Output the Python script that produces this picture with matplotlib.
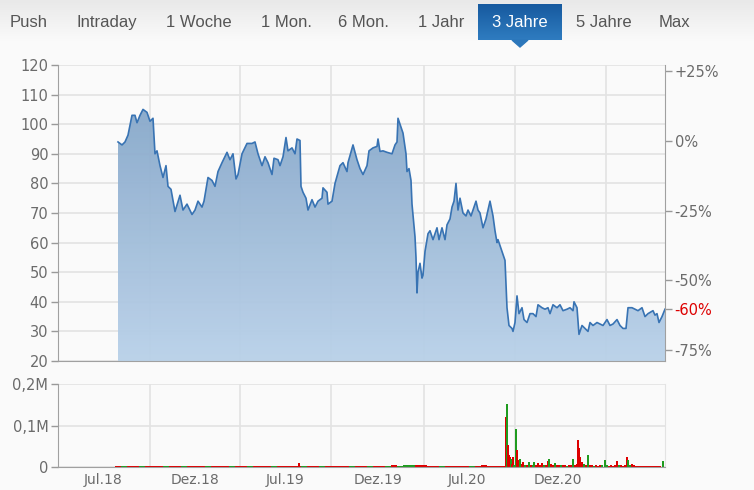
"""Kursverlauf 3 Jahre: Preis-Fläche mit Umsatz-Balken darunter."""

import numpy as np
import matplotlib.pyplot as plt
from matplotlib.colors import LinearSegmentedColormap
from matplotlib.patches import Rectangle, Polygon

# --- data (x = time index along the chart) ---------------------------------
price_t = [118, 122, 125, 128, 132, 135, 137, 140, 143, 147, 150, 153, 155, 157,
           160, 163, 166, 168, 171, 175, 180, 183, 187, 192, 195, 198, 202, 204,
           208, 212, 215, 218, 222, 227, 230, 233, 236, 238, 242, 247, 252, 255,
           258, 262, 265, 268, 272, 274, 278, 280, 283, 286, 288, 292, 295, 297,
           300, 301, 303, 306, 308, 312, 315, 318, 322, 323, 327, 328, 332, 335,
           340, 343, 347, 348, 353, 357, 360, 363, 367, 369, 373, 377, 378, 380,
           383, 387, 392, 395, 397, 398, 401, 403, 406, 407, 409, 411, 412, 415,
           416, 417, 418, 420, 422, 423, 425, 428, 430, 433, 435, 437, 439, 442,
           445, 447, 450, 452, 454, 456, 458, 460, 463, 466, 468, 471, 473, 476,
           478, 480, 483, 486, 488, 490, 493, 495, 497, 498, 501, 503, 505, 506,
           507, 509, 512, 513, 515, 517, 519, 522, 524, 527, 530, 533, 536, 538,
           542, 545, 548, 550, 553, 557, 560, 563, 567, 570, 573, 574, 577, 579,
           582, 585, 588, 590, 593, 597, 600, 603, 607, 610, 613, 617, 620, 623,
           626, 628, 632, 635, 638, 642, 645, 648, 653, 655, 657, 659, 662, 665]
price = [94, 93, 94, 96.3, 103, 103, 100.5, 103, 105, 104, 101, 102, 90, 91,
         86, 82, 86, 79, 78, 70.5, 76, 71, 73, 69.5, 71, 74, 72, 74,
         82, 81, 79, 84, 87, 90.5, 88, 90, 81.5, 83, 90, 93.5, 93.5, 94,
         90, 86, 89, 87, 83, 88.5, 88, 86, 89, 95.5, 91, 92, 90, 95,
         94.5, 79, 77, 75, 71, 74.5, 72, 74, 75, 78.5, 77, 73, 74, 80,
         86, 87, 84, 87, 93, 88, 85, 83, 86, 91, 92, 92.5, 95, 90.8,
         91, 90.5, 90, 93, 94, 102, 99, 97, 90, 84, 85, 81, 73, 62,
         55, 43, 50, 53, 48, 49, 57, 63, 64, 61, 63, 65, 61, 65,
         61, 66, 68, 72, 74, 80, 71, 75, 70, 69, 71, 69, 71, 74,
         71, 70, 65, 68, 71, 74, 69, 64, 60, 61, 58, 56, 54, 46,
         38, 32, 31, 30, 33, 42, 36, 38, 34, 33, 36, 36, 35, 39,
         38, 37.5, 38, 36, 39, 38, 39, 37, 37.5, 38, 37, 40, 38, 29,
         32, 31, 30, 33, 32, 33, 32.5, 32, 34, 32, 32.5, 34, 32, 31,
         31, 38, 38, 37.5, 37, 38, 35, 36, 37, 35.5, 36, 33, 35, 37.5]

# daily volume (thousand shares) before the autumn-2020 crash, one bar per step
vol_base_start, vol_base_step = 118, 6
vol_base = [3, 3, 2, 3, 3, 3, 3, 3, 2, 3, 3, 3, 3, 3, 3, 2, 3, 3, 3, 3,
            3, 3, 3, 3, 3, 3, 3, 3, 3, 3, 3, 3, 3, 3, 3, 3, 3, 3, 3, 3,
            3, 3, 3, 3, 3, 3, 4, 3, 4, 6, 6, 5, 3, 3, 3, 3, 3, 3, 3, 3,
            3, 4, 3, 3, 3]
vol_base_dir = "rgrrgrrrgrrgrrrgrrrgrrgrrrgrrrrgrrgrrrrgrrgrrgrgggrrrrgrrrrgrrrr"

# single-day volume spikes
vol_t = [299, 506, 507, 508, 509, 510, 511, 512, 513, 514, 516, 517, 518, 519,
         520, 522, 523, 525, 527, 529, 531, 533, 534, 536, 538, 540, 542, 544,
         546, 548, 549, 551, 553, 555, 557, 559, 561, 563, 565, 567, 569, 571,
         573, 575, 577, 578, 579, 580, 582, 584, 586, 588, 590, 592, 594, 596,
         598, 600, 602, 605, 607, 609, 611, 613, 615, 617, 619, 621, 623, 625,
         627, 628, 630, 632, 634, 636, 638, 640, 642, 644, 646, 648, 650, 652,
         654, 656, 658, 660, 663]
vol_k = [10, 120, 153, 54, 30, 25, 20, 8, 25, 6, 92, 41, 12, 17,
         19, 8, 13, 6, 5, 12, 5, 5, 12, 6, 9, 5, 10, 6,
         4, 15, 19, 8, 6, 10, 5, 4, 6, 4, 5, 3, 5, 4,
         20, 5, 8, 66, 45, 25, 12, 8, 5, 30, 6, 4, 3, 4,
         3, 4, 4, 17, 5, 3, 4, 3, 4, 14, 5, 4, 3, 5,
         24, 18, 5, 8, 4, 3, 3, 3, 3, 3, 3, 3, 3, 3,
         3, 3, 3, 3, 15]
vol_dir = "rrgrrrgrrggrrrgrrgrgrggrrrrgrrgrrgrrgrrgrrgrrrrrrgrgrrgrrrgggrrrrrgrrrrggrrrrrrrrrrrrrrrg"

tabs = ["Push", "Intraday", "1 Woche", "1 Mon.", "6 Mon.", "1 Jahr",
        "3 Jahre", "5 Jahre", "Max"]
tab_x = [29, 107, 199, 286, 363, 441, 520, 604, 674]
active_tab = "3 Jahre"

date_labels = ["Jul.18", "Dez.18", "Jul.19", "Dez.19", "Jul.20", "Dez.20"]
date_label_t = [103, 195, 285, 378, 467, 558]
grid_t = [150, 240, 331, 424, 515, 606]
pct_ticks = [25, 0, -25, -50, -75]
base_price = 94.4

# --- style ------------------------------------------------------------------
W, H = 754, 490
BG = "#fafafa"
GRID = "#e3e3e3"
TXT = "#6b6b6b"
LINE = "#3873b3"
RED = "#dd0000"
GREEN = "#1f9b1f"
T0, T1 = 58, 665

plt.rcParams.update({"font.family": ["DejaVu Sans"], "font.size": 10})

fig = plt.figure(figsize=(W / 100, H / 100), dpi=100, facecolor=BG)


def px_axes(left, top, right, bottom):
    return fig.add_axes([left / W, 1 - bottom / H, (right - left) / W,
                         (bottom - top) / H])


# navigation bar
nav = px_axes(0, 0, W, 50)
nav.set_xlim(0, W)
nav.set_ylim(50, 0)
nav.axis("off")
bar_cmap = LinearSegmentedColormap.from_list("bar", ["#e9e9e9", "#fbfbfb"])
nav.imshow(np.linspace(0, 1, 64).reshape(-1, 1), cmap=bar_cmap,
           extent=[0, W, 44, 0], aspect="auto", zorder=0)
nav.add_patch(Rectangle((0, 44), W, 6, color=BG, zorder=0))
ai = tabs.index(active_tab)
tab_cmap = LinearSegmentedColormap.from_list("tab", ["#175a9f", "#2f7cc0"])
nav.imshow(np.linspace(0, 1, 64).reshape(-1, 1), cmap=tab_cmap,
           extent=[478, 562, 40, 4], aspect="auto", zorder=1)
nav.add_patch(Polygon([(tab_x[ai] - 8, 40), (tab_x[ai] + 8, 40),
                       (tab_x[ai], 47)], closed=True, color="#2c77bb", zorder=1))
for name, x in zip(tabs, tab_x):
    nav.text(x, 27, name, ha="center", va="baseline", fontsize=12,
             family="Liberation Sans",
             color="white" if name == active_tab else "#555555", zorder=2)

# price panel
ax = px_axes(T0, 65, T1, 361)
ax.set_facecolor(BG)
ax.set_yticks(range(20, 121, 10))
ax.set_xticks(grid_t)
ax.tick_params(axis="x", length=0, labelbottom=False)
ax.tick_params(axis="y", length=5, width=1, color="#999999", labelcolor=TXT,
               labelsize=10.5, pad=2)
ax.grid(True, color=GRID, lw=1.2, zorder=0)
ax.set_axisbelow(True)
for s in ("top", "right"):
    ax.spines[s].set_visible(False)
for s in ("left", "bottom"):
    ax.spines[s].set_color("#a0a0a0")

fill = ax.fill_between(price_t, price, 20, color="none", lw=0)
fill_cmap = LinearSegmentedColormap.from_list("fill", ["#87a8ca", "#b9d1e9"])
img = ax.imshow(np.linspace(0, 1, 128).reshape(-1, 1), cmap=fill_cmap,
                extent=[T0, T1, 20, 106], aspect="auto", zorder=1, alpha=0.95)
img.set_clip_path(fill.get_paths()[0], transform=ax.transData)
ax.set_xlim(T0, T1)
ax.set_ylim(20, 120)
ax.plot(price_t, price, color=LINE, lw=1.2, zorder=3)

# percentage axis on the right, plus the current-price marker in red
last_pct = round((price[-1] / base_price - 1) * 100)
ax2 = ax.twinx()
ax2.set_ylim(20, 120)
ax2.set_yticks([base_price * (1 + p / 100) for p in pct_ticks] + [price[-1]])
ax2.set_yticklabels([f"{p:+d}%" if p > 0 else f"{p}%" for p in pct_ticks]
                    + [f"{last_pct}%"])
ax2.tick_params(axis="y", length=5, width=1, color="#999999", labelcolor=TXT,
                labelsize=10.5, pad=2)
ax2.get_yticklabels()[-1].set_color(RED)
for s in ("top", "left", "bottom"):
    ax2.spines[s].set_visible(False)
ax2.spines["right"].set_color("#a0a0a0")

# volume panel
vx = px_axes(T0, 384, T1, 467)
vx.set_facecolor(BG)
vx.set_xlim(T0, T1)
vx.set_ylim(0, 200)
base_t = [vol_base_start + i * vol_base_step for i in range(len(vol_base))]
vx.bar(base_t, vol_base, width=vol_base_step * 0.95,
       color=[GREEN if d == "g" else RED for d in vol_base_dir[:len(vol_base)]],
       zorder=2)
vx.bar(vol_t, vol_k, width=1.3,
       color=[GREEN if d == "g" else RED for d in vol_dir[:len(vol_k)]],
       zorder=2)
vx.set_yticks([0, 100, 200])
vx.set_yticklabels(["0", "0,1M", "0,2M"])
vx.set_xticks(date_label_t)
vx.set_xticklabels(date_labels)
vx.set_xticks(grid_t, minor=True)
vx.tick_params(axis="x", which="major", length=0, labelcolor=TXT,
               labelsize=10, pad=4)
vx.tick_params(axis="x", which="minor", length=0)
vx.tick_params(axis="y", length=5, width=1, color="#999999", labelcolor=TXT,
               labelsize=10.5, pad=2)
vx.grid(True, axis="y", color=GRID, lw=1.2, zorder=0)
vx.grid(True, axis="x", which="minor", color=GRID, lw=1.2, zorder=0)
vx.set_axisbelow(True)
vx.spines["top"].set_visible(False)
vx.spines["right"].set_color(GRID)
for s in ("left", "bottom"):
    vx.spines[s].set_color("#a0a0a0")

fig.savefig("out.png", dpi=100, facecolor=BG)
